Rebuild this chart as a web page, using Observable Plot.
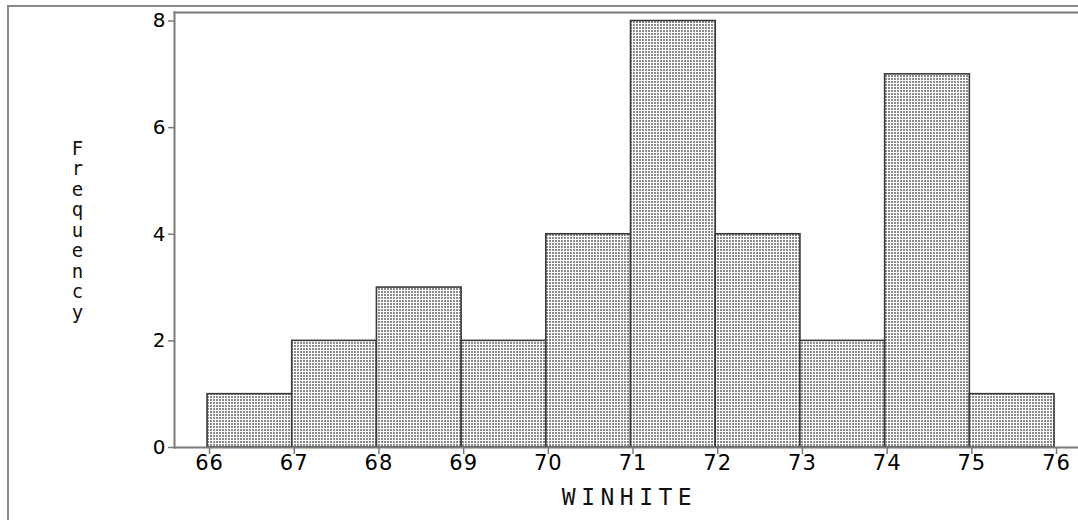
<!DOCTYPE html>
<html>
<head>
<meta charset="utf-8">
<script src="https://cdn.jsdelivr.net/npm/d3@7"></script>
<script src="https://cdn.jsdelivr.net/npm/@observablehq/plot@0.6"></script>
<style>
  html, body { margin: 0; padding: 0; background: #fff; }
  #wrap { position: relative; width: 1078px; height: 520px; overflow: hidden; }
  #wrap svg { position: absolute; left: 0; top: 0; }
  #outer { position: absolute; left: 7px; top: 5px; width: 1100px; height: 600px;
           border-left: 2px solid #8a8a8a; border-top: 2px solid #8a8a8a; pointer-events: none; }
</style>
</head>
<body>
<div id="wrap"><div id="outer"></div></div>
<script>
// Data
const binStart = [66, 67, 68, 69, 70, 71, 72, 73, 74, 75];
const binWidth = 1;
const counts   = [1, 2, 3, 2, 4, 8, 4, 2, 7, 1];
const xTicks   = [66, 67, 68, 69, 70, 71, 72, 73, 74, 75, 76];
const yTicks   = [0, 2, 4, 6, 8];
const xLabel   = "WINHITE";
const yLabel   = "Frequency";

const bins = binStart.map((s, i) => ({x1: s, x2: s + binWidth, y: counts[i]}));

const sans = "'DejaVu Sans', sans-serif";
const mono = "'DejaVu Sans Mono', monospace";

const chart = Plot.plot({
  width: 1078,
  height: 520,
  marginLeft: 174,
  marginRight: 0,
  marginTop: 12,
  marginBottom: 73,
  style: {fontFamily: sans, background: "transparent", overflow: "visible"},
  x: {domain: [65.61, 76.283], axis: null},
  y: {domain: [0, 8.16], axis: null},
  marks: [
    Plot.rectY(bins, {x1: "x1", x2: "x2", y: "y", fill: "url(#dots)", stroke: "#3a3a3a", strokeWidth: 1.6}),
    Plot.frame({anchor: "left", stroke: "#7a7a7a", strokeWidth: 2}),
    Plot.frame({anchor: "bottom", stroke: "#7a7a7a", strokeWidth: 2}),
    Plot.frame({anchor: "top", stroke: "#7a7a7a", strokeWidth: 2}),
    Plot.axisY(yTicks, {ticks: yTicks, tickSize: 6, tickPadding: 3, stroke: "#7a7a7a", strokeWidth: 1.5,
      fill: "#000", fontSize: 20, label: null, tickFormat: d => String(d)}),
    Plot.axisX(xTicks, {ticks: xTicks, tickSize: 7, tickPadding: 1, stroke: "#7a7a7a", strokeWidth: 1.5,
      fill: "#000", fontSize: 21, label: null, tickFormat: d => String(d), dx: 2}),
    Plot.text([xLabel], {frameAnchor: "bottom", dy: 50, dx: 3, fontSize: 23, fontFamily: mono,
      fill: "#111", lineAnchor: "middle"}),
    Plot.text([yLabel.split("").join("\n")], {frameAnchor: "left", dx: -97, fontSize: 19, lineHeight: 1.08,
      fontFamily: mono, fill: "#111", textAnchor: "middle", lineAnchor: "middle"})
  ]
});

// dotted fill pattern
const svgNS = "http://www.w3.org/2000/svg";
const defs = document.createElementNS(svgNS, "defs");
defs.innerHTML = `<pattern id="dots" width="3" height="3" patternUnits="userSpaceOnUse">
  <rect width="3" height="3" fill="#ffffff"/>
  <rect width="2" height="2" fill="#8c8c8c"/>
</pattern>`;
chart.insertBefore(defs, chart.firstChild);

// spacing like the reference's bitmap font
d3.select(chart).selectAll('g[aria-label="x-axis tick label"] text').style("letter-spacing", "1px");
d3.select(chart).selectAll('g[aria-label="text"] text').filter(function() { return this.textContent === xLabel; })
  .style("letter-spacing", "5.5px");
document.getElementById("wrap").appendChild(chart);
</script>
</body>
</html>
